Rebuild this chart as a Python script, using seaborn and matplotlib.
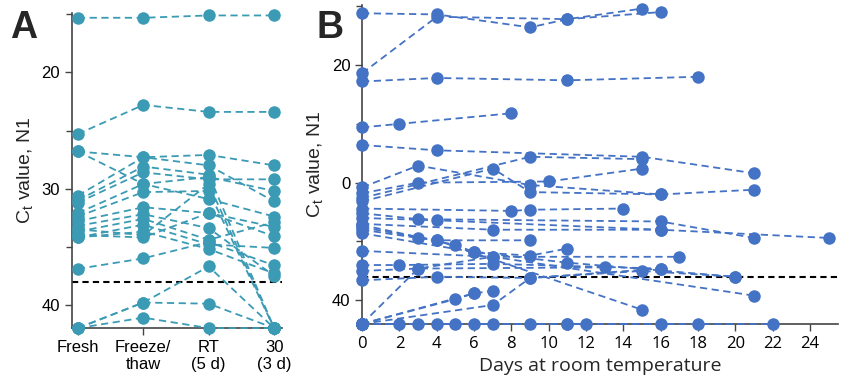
import numpy as np
import pandas as pd
import matplotlib
matplotlib.use('Agg')
import matplotlib.pyplot as plt
import seaborn as sns
from matplotlib.ticker import MultipleLocator

# panel A: Ct values per sample at 4 conditions
conditions = ['Fresh', 'Freeze/\nthaw', 'RT\n(5 d)', '30\n(3 d)']
a_samples = [
    [15.3, 15.3, 15.1, 15.1],
    [25.3, 22.8, 23.4, 23.4],
    [26.8, 27.3, 27.1, 28.0],
    [26.8, 29.6, 30.9, 32.4],
    [30.6, 27.3, 28.0, 31.1],
    [31.0, 28.1, 28.8, 42.0],
    [31.2, 28.6, 29.2, 29.2],
    [32.1, 29.6, 29.0, 30.2],
    [32.4, 30.3, 30.2, 42.0],
    [32.8, 31.6, 32.1, 33.3],
    [33.2, 32.2, 33.4, 37.5],
    [33.7, 32.6, 34.4, 32.9],
    [34.2, 33.1, 34.8, 35.1],
    [34.2, 33.7, 35.2, 37.3],
    [34.0, 34.2, 32.1, 34.1],
    [36.9, 36.0, 34.6, 36.6],
    [42.0, 39.8, 36.7, 42.0],
    [42.0, 39.8, 39.9, 42.0],
    [42.0, 41.1, 42.0, 42.0],
    [33.5, 34.0, 29.6, 42.0],
]

# panel B: days at room temperature and Ct values per sample
b_days = [
    [0, 4, 9, 11, 15],
    [0, 4, 11, 16],
    [0, 4, 11, 18],
    [0, 2, 8],
    [0, 4, 15, 21],
    [0, 3, 9, 16, 21],
    [0, 3, 10, 15],
    [0, 9, 15],
    [0, 7, 9, 16],
    [0, 8, 9, 14],
    [0, 3, 16, 21],
    [0, 4, 16, 25],
    [0, 7, 16],
    [0, 3, 4, 9],
    [0, 5, 6, 9, 11],
    [0, 6, 11, 20],
    [0, 7, 17],
    [0, 2, 7, 16],
    [0, 3, 13],
    [0, 4, 9, 15, 20],
    [0, 4, 15],
    [0, 5, 6],
    [0, 6, 7],
    [0, 7, 9, 16],
    [0, 3, 7, 21],
    [0, 2],
    [0, 3, 11],
    [0, 4, 12],
    [0, 5, 16],
    [0, 6, 18],
    [0, 7, 22],
    [0, 9, 11],
]
b_ct = [
    [15.6, 15.7, 16.8, 16.1, 15.2],
    [20.7, 15.9, 16.1, 15.5],
    [21.4, 21.1, 21.3, 21.0],
    [25.3, 25.0, 24.1],
    [26.8, 27.25, 27.8, 29.2],
    [30.4, 28.55, 30.2, 31.0, 30.6],
    [30.9, 30.0, 29.9, 28.8],
    [31.3, 27.8, 28.0],
    [31.6, 28.8, 30.8, 31.0],
    [32.2, 32.4, 32.3, 32.2],
    [32.6, 33.1, 33.3, 34.7],
    [33.0, 33.2, 34.0, 34.7],
    [33.5, 34.0, 34.0],
    [34.0, 34.7, 34.9, 34.9],
    [33.6, 35.3, 35.9, 36.2, 35.6],
    [34.3, 35.9, 36.8, 38.0],
    [35.8, 36.3, 36.3],
    [37.0, 37.0, 36.9, 37.3],
    [37.5, 37.3, 37.2],
    [38.3, 38.0, 38.1, 37.5, 38.0],
    [33.8, 34.9, 40.8],
    [42.0, 39.9, 39.4],
    [42.0, 39.4, 39.2],
    [42.0, 40.4, 38.1, 37.3],
    [42.0, 37.3, 36.3, 39.6],
    [42.0, 42.0],
    [42.0, 42.0, 42.0],
    [42.0, 42.0, 42.0],
    [42.0, 42.0, 42.0],
    [42.0, 42.0, 42.0],
    [42.0, 42.0, 42.0],
    [42.0, 42.0, 42.0],
]
cutoff = 38

rows_a = []
for i, vals in enumerate(a_samples):
    for j, v in enumerate(vals):
        rows_a.append({'sample': i, 'cond': j, 'ct': v})
df_a = pd.DataFrame(rows_a)

rows_b = []
for i, (ds, vs) in enumerate(zip(b_days, b_ct)):
    for d, v in zip(ds, vs):
        rows_b.append({'sample': i, 'day': d, 'ct': v})
df_b = pd.DataFrame(rows_b)

sns.set_style('ticks')
plt.rcParams['font.family'] = ['Liberation Sans', 'DejaVu Sans']

fig = plt.figure(figsize=(8.5, 3.86), dpi=100)
ax1 = fig.add_axes([0.0847, 0.150, 0.247, 0.816])
ax2 = fig.add_axes([0.426, 0.161, 0.560, 0.826])

teal = '#3b9bb5'
blue = '#4472c4'
spine_col = '#444444'

sns.lineplot(data=df_a, x='cond', y='ct', units='sample', estimator=None,
             color=teal, marker='o', markersize=9, markeredgewidth=0,
             linestyle=(0, (4, 2.5)), linewidth=1.3, clip_on=False, ax=ax1)
sns.lineplot(data=df_b, x='day', y='ct', units='sample', estimator=None,
             color=blue, marker='o', markersize=9, markeredgewidth=0,
             linestyle=(0, (4, 2.5)), linewidth=1.3, clip_on=False, ax=ax2)

for ax in (ax1, ax2):
    ax.axhline(cutoff, color='black', linestyle=(0, (3, 2)), linewidth=1.5, zorder=1)
    sns.despine(ax=ax)
    for s in ('left', 'bottom'):
        ax.spines[s].set_color(spine_col)
        ax.spines[s].set_linewidth(1.2)
        ax.spines[s].set_zorder(1)
    ax.tick_params(colors=spine_col, labelcolor='black', labelsize=12,
                   length=5, width=1)
    ax.tick_params(which='minor', colors=spine_col, length=4, width=1)
    ax.set_ylabel(r'C$_\mathregular{t}$ value, N1', fontsize=14)
    ax.set_ylim(42, 14.9)
    ax.yaxis.set_minor_locator(MultipleLocator(5))

ax1.set_xlim(-0.09, 3.12)
ax1.set_xticks(range(4))
ax1.set_xticklabels(conditions)
ax1.set_xlabel('')
ax1.set_yticks([20, 30, 40])
ax1.set_yticklabels(['20', '30', '40'])

ax2.set_xlim(0, 25.5)
ax2.set_xticks(range(0, 25, 2))
ax2.set_xlabel('Days at room temperature', fontsize=14, family=['Open Sans', 'DejaVu Sans'])
ax2.set_yticks([20, 30, 40])
ax2.set_yticklabels(['20', '0', '40'])
for lab in ax2.get_xticklabels():
    lab.set_fontfamily(['Open Sans', 'DejaVu Sans'])

fig.text(0.012, 0.975, 'A', fontsize=27, fontweight='bold', va='top')
fig.text(0.372, 0.975, 'B', fontsize=27, fontweight='bold', va='top')

fig.savefig('out.png', dpi=100)
